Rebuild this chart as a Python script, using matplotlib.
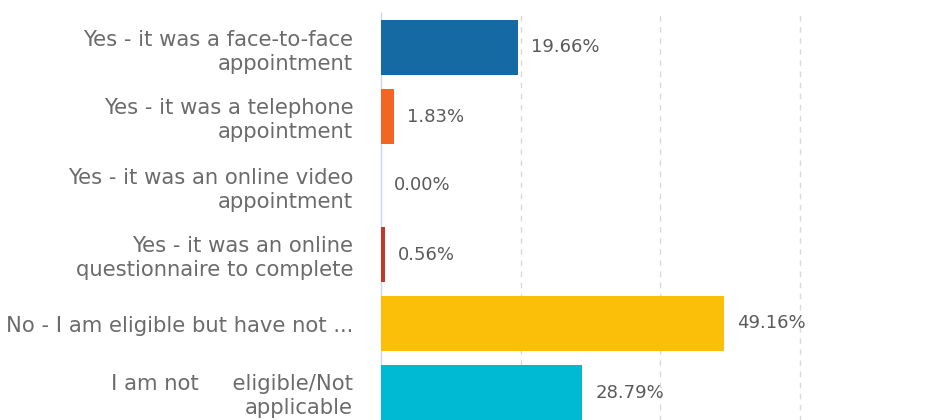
import matplotlib.pyplot as plt
from matplotlib.ticker import FixedLocator

plt.rcParams['font.family'] = ['DejaVu Sans']

# survey answers and share of respondents (%)
answers = [
    'Yes - it was a face-to-face\nappointment',
    'Yes - it was a telephone\nappointment',
    'Yes - it was an online video\nappointment',
    'Yes - it was an online\nquestionnaire to complete',
    'No - I am eligible but have not ...',
    'I am not     eligible/Not\napplicable',
]
shares = [19.66, 1.83, 0.00, 0.56, 49.16, 28.79]
bar_colors = ['#156aa3', '#f26522', '#1f5fa8', '#c0392b', '#fbbf09', '#00bad3']

fig = plt.figure(figsize=(9.37, 4.2), dpi=100)
# plot area runs past the right and bottom edges of the canvas
ax = fig.add_axes([381 / 937, -7 / 420, 1 - 381 / 937, 414 / 420])

ypos = list(range(len(answers)))
ax.barh(ypos, shares, height=0.8, color=bar_colors, zorder=3)

for y, v in zip(ypos, shares):
    ax.annotate(f'{v:.2f}%', (v, y), xytext=(9.5, 0), textcoords='offset points',
                va='center', ha='left', fontsize=13, color='#5a5a5a')

ax.set_xlim(0, (937 - 381) / 6.98)
ax.set_ylim(len(answers) - 0.5, -0.5)
ax.set_yticks(ypos)
ax.set_yticklabels(answers, fontsize=15.2, color='#6b6b6b', linespacing=1.25)
ax.tick_params(axis='y', length=0, pad=20)
ax.tick_params(axis='x', length=0, labelbottom=False)
ax.xaxis.set_major_locator(FixedLocator([20, 40, 60]))
ax.grid(axis='x', color='#d9d9d9', linestyle=(0, (4, 4)), linewidth=1, zorder=0)

for side in ['top', 'right', 'bottom']:
    ax.spines[side].set_visible(False)
ax.spines['left'].set_color('#c9d5f2')
ax.spines['left'].set_linewidth(1)

plt.savefig('out.png', dpi=100)
